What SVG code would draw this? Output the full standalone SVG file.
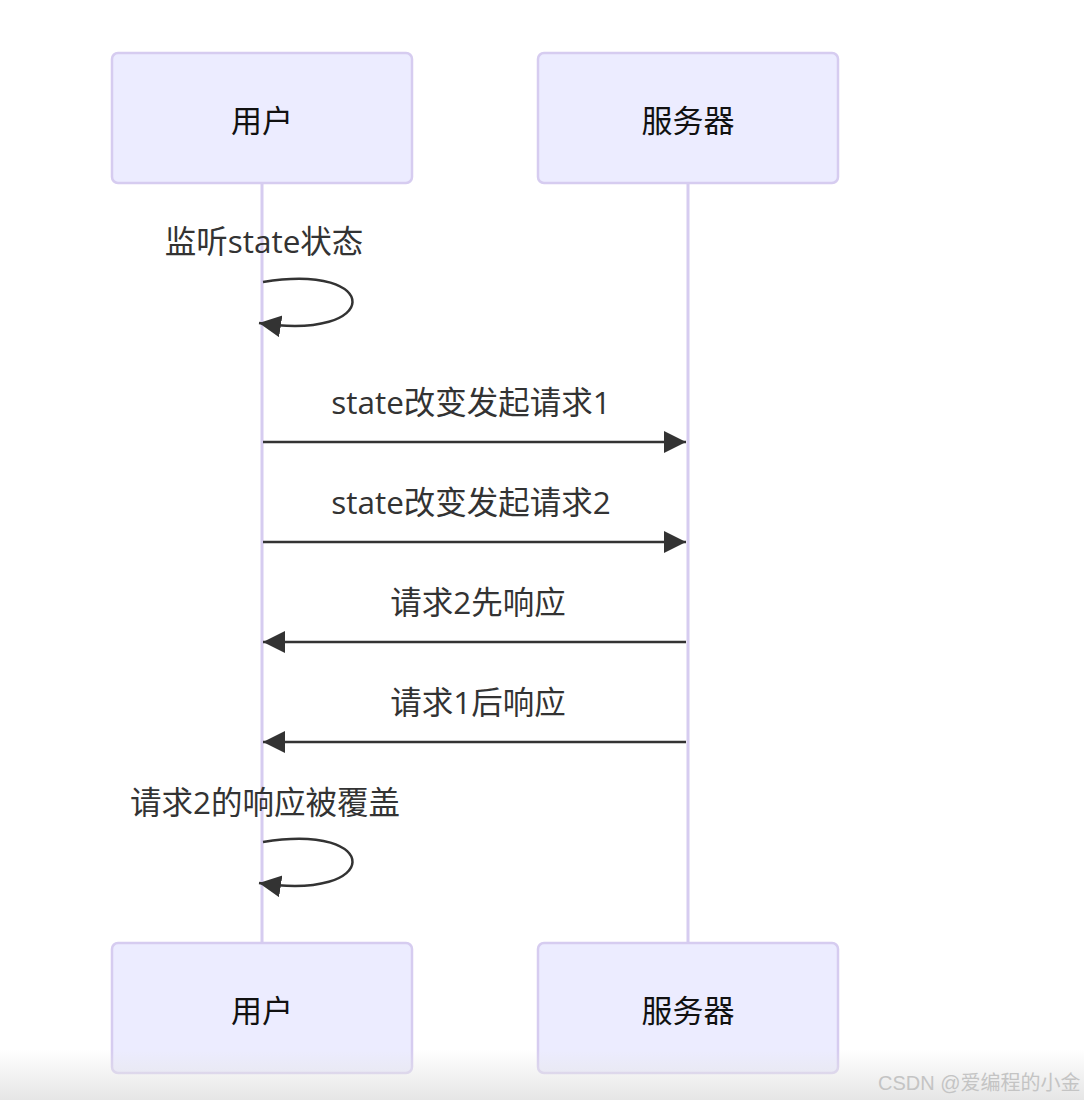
<svg xmlns="http://www.w3.org/2000/svg" width="1084" height="1100" viewBox="0 0 1084 1100">
<style>
.actor{fill:#ECECFF;stroke:#D6CCF0;stroke-width:2.5}
.actor-text{font-family:"Noto Sans CJK SC","Open Sans",sans-serif;font-size:31px;fill:#111;text-anchor:middle;dominant-baseline:central}
.life{stroke:#D6CCF0;stroke-width:3}
.msg{stroke:#333;stroke-width:2.5;fill:none}
.msg-text{font-family:"Open Sans","Noto Sans CJK SC",sans-serif;font-size:31.5px;fill:#333;text-anchor:middle}
.wm{font-family:"Liberation Sans","Noto Sans CJK SC",sans-serif;font-size:20px;fill:#c4c4c4}
</style>
<defs>
<marker id="arrow" markerUnits="userSpaceOnUse" markerWidth="24" markerHeight="24" refX="22" refY="11" orient="auto">
<path d="M0,0 L22,11 L0,22 z" fill="#333"/>
</marker>
<linearGradient id="shade" x1="0" y1="0" x2="0" y2="1">
<stop offset="0" stop-color="#e6e6e6" stop-opacity="0"/>
<stop offset="1" stop-color="#e6e6e6" stop-opacity="1"/>
</linearGradient>
</defs>
<rect width="1084" height="1100" fill="#fff"/>
<g id="lifelines">
<line class="life" x1="262" y1="183" x2="262" y2="943"/>
<line class="life" x1="688" y1="183" x2="688" y2="943"/>
</g>
<g id="actor-user-top"><rect class="actor" x="112" y="53" width="300" height="130" rx="6"/><text class="actor-text" x="262" y="118">用户</text></g>
<g id="actor-server-top"><rect class="actor" x="538" y="53" width="300" height="130" rx="6"/><text class="actor-text" x="688" y="118">服务器</text></g>
<g id="actor-user-bottom"><rect class="actor" x="112" y="943" width="300" height="130" rx="6"/><text class="actor-text" x="262" y="1008">用户</text></g>
<g id="actor-server-bottom"><rect class="actor" x="538" y="943" width="300" height="130" rx="6"/><text class="actor-text" x="688" y="1008">服务器</text></g>
<g id="connectors">
<path class="msg" d="M263,282 C383,262 383,342 259,323" marker-end="url(#arrow)"/>
<line class="msg" x1="263" y1="442" x2="686" y2="442" marker-end="url(#arrow)"/>
<line class="msg" x1="263" y1="542" x2="686" y2="542" marker-end="url(#arrow)"/>
<line class="msg" x1="686" y1="642" x2="263" y2="642" marker-end="url(#arrow)"/>
<line class="msg" x1="686" y1="742" x2="263" y2="742" marker-end="url(#arrow)"/>
<path class="msg" d="M263,842 C383,822 383,902 259,883" marker-end="url(#arrow)"/>
</g>
<g id="labels">
<text class="msg-text" x="264" y="253">监听state状态</text>
<text class="msg-text" x="471" y="414">state改变发起请求1</text>
<text class="msg-text" x="471" y="514">state改变发起请求2</text>
<text class="msg-text" x="478" y="614">请求2先响应</text>
<text class="msg-text" x="478" y="714">请求1后响应</text>
<text class="msg-text" x="265" y="814">请求2的响应被覆盖</text>
</g>
<rect x="0" y="1050" width="1084" height="50" fill="url(#shade)"/>
<text class="wm" x="878" y="1090">CSDN @爱编程的小金</text>
</svg>
